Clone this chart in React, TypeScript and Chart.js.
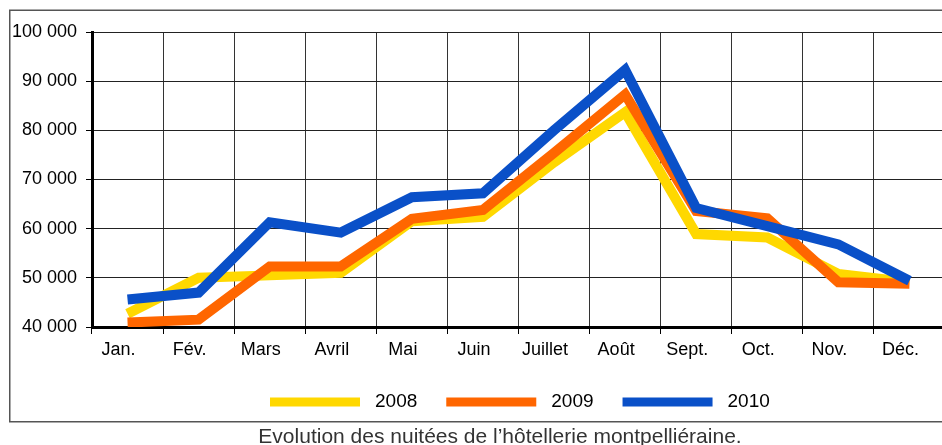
import React, { useEffect, useRef } from 'react';
import { Chart, registerables } from 'chart.js';

Chart.register(...registerables);

const months = ['Jan.', 'Fév.', 'Mars', 'Avril', 'Mai', 'Juin', 'Juillet', 'Août', 'Sept.', 'Oct.', 'Nov.', 'Déc.'];
const years = ['2008', '2009', '2010'];
const nuitees2008 = [42700, 50000, 50500, 51000, 61500, 62400, 73500, 83700, 58900, 58200, 50800, 49100];
const nuitees2009 = [40900, 41500, 52300, 52300, 62000, 63800, 75400, 87300, 63600, 62100, 49100, 48800];
const nuitees2010 = [45600, 47000, 61300, 59200, 66400, 67200, 80000, 92300, 64200, 60500, 56800, 49400];
const yMin = 40000;
const yMax = 100000;
const yStep = 10000;
const caption = 'Evolution des nuitées de l\u2019hôtellerie montpelliéraine.';

const FONT = '"Liberation Sans", Arial, Helvetica, sans-serif';
const colors = ['#FFD800', '#FF6600', '#0A50C8'];

const formatThousands = (v: number) => String(v).replace(/\B(?=(\d{3})+(?!\d))/g, ' ');

const framePlugin = {
  id: 'frame',
  beforeDraw(chart: any) {
    const ctx = chart.ctx;
    ctx.save();
    ctx.fillStyle = '#fff';
    ctx.fillRect(0, 0, chart.width, chart.height);
    ctx.restore();
  },
  afterDraw(chart: any) {
    const ctx = chart.ctx;
    ctx.save();
    // outer frame
    ctx.strokeStyle = '#555';
    ctx.lineWidth = 1.5;
    ctx.strokeRect(9.75, 10.25, 990, 411.5);
    // legend
    ctx.font = `19px ${FONT}`;
    ctx.textBaseline = 'middle';
    ctx.textAlign = 'left';
    let x = 270;
    const y = 402;
    chart.data.datasets.forEach((ds: any) => {
      ctx.fillStyle = ds.borderColor;
      ctx.fillRect(x, y - 4.5, 90, 9);
      x += 90 + 15;
      ctx.fillStyle = '#000';
      ctx.fillText(ds.label, x, y);
      x += ctx.measureText(ds.label).width + 29;
    });
    // caption
    ctx.font = `21px ${FONT}`;
    ctx.fillStyle = '#333';
    ctx.textAlign = 'center';
    ctx.textBaseline = 'alphabetic';
    ctx.fillText(caption, 500, 443);
    ctx.restore();
  },
};

export default function App() {
  const ref = useRef<HTMLCanvasElement | null>(null);

  useEffect(() => {
    if (!ref.current) return;
    const series = [nuitees2008, nuitees2009, nuitees2010];
    const chart = new Chart(ref.current, {
      type: 'line',
      data: {
        labels: months,
        datasets: years.map((label, i) => ({
          label,
          data: series[i],
          borderColor: colors[i],
          backgroundColor: colors[i],
          borderWidth: 10,
          pointRadius: 0,
          tension: 0,
          fill: false,
          borderJoinStyle: 'miter' as const,
          borderCapStyle: 'butt' as const,
          order: 2 - i,
        })),
      },
      options: {
        responsive: false,
        animation: false,
        layout: { padding: { left: 0, top: 32, right: 15, bottom: 78 }, autoPadding: false },
        plugins: { legend: { display: false }, tooltip: { enabled: false } },
        scales: {
          x: {
            offset: true,
            grid: { offset: true, color: '#333', lineWidth: 1, tickLength: 7, drawTicks: true, tickColor: '#000' },
            border: { display: true, color: '#000', width: 3 },
            ticks: { font: { family: FONT, size: 18 }, color: '#000', padding: 5, maxRotation: 0, autoSkip: false, labelOffset: -9 },
            afterFit: (s: any) => { s.height = 40; },
          },
          y: {
            min: yMin,
            max: yMax,
            ticks: {
              stepSize: yStep,
              font: { family: FONT, size: 18 },
              color: '#000',
              padding: 9,
              callback: (v: any) => formatThousands(Number(v)),
            },
            grid: { color: '#222', lineWidth: 1, tickLength: 6, tickColor: '#000' },
            border: { display: true, color: '#000', width: 3 },
            afterFit: (s: any) => { s.width = 92; },
          },
        },
      },
      plugins: [framePlugin],
    });
    return () => chart.destroy();
  }, []);

  return (
    <div style={{ position: 'fixed', left: 0, top: 0, width: 942, height: 445, overflow: 'hidden', background: '#fff' }}>
      <canvas ref={ref} width={960} height={445} style={{ display: 'block' }} />
    </div>
  );
}
